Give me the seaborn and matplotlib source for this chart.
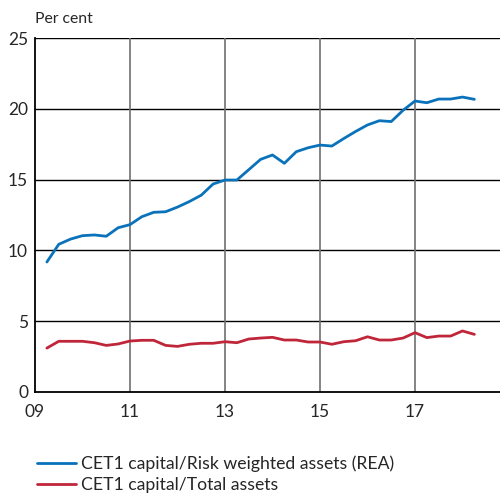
import numpy as np
import pandas as pd
import matplotlib
matplotlib.use("Agg")
import matplotlib.pyplot as plt
import seaborn as sns

# Quarterly observations, 2009 Q2 to 2018 Q2
quarters = [2009.25, 2009.5, 2009.75, 2010.0, 2010.25, 2010.5, 2010.75, 2011.0,
            2011.25, 2011.5, 2011.75, 2012.0, 2012.25, 2012.5, 2012.75, 2013.0,
            2013.25, 2013.5, 2013.75, 2014.0, 2014.25, 2014.5, 2014.75, 2015.0,
            2015.25, 2015.5, 2015.75, 2016.0, 2016.25, 2016.5, 2016.75, 2017.0,
            2017.25, 2017.5, 2017.75, 2018.0, 2018.25]

cet1_rea = [9.18, 10.43, 10.80, 11.04, 11.09, 11.00, 11.60, 11.82, 12.38, 12.69,
            12.73, 13.06, 13.45, 13.90, 14.69, 14.97, 14.97, 15.70, 16.43, 16.74,
            16.15, 16.97, 17.25, 17.44, 17.37, 17.90, 18.40, 18.86, 19.16, 19.10,
            19.90, 20.55, 20.43, 20.69, 20.69, 20.83, 20.67]

cet1_total = [3.10, 3.58, 3.58, 3.58, 3.48, 3.29, 3.39, 3.60, 3.65, 3.65,
              3.29, 3.22, 3.37, 3.44, 3.44, 3.55, 3.48, 3.74, 3.81, 3.86,
              3.67, 3.67, 3.53, 3.53, 3.37, 3.55, 3.62, 3.90, 3.67, 3.67,
              3.81, 4.19, 3.84, 3.95, 3.95, 4.31, 4.07]

series_names = ["CET1 capital/Risk weighted assets (REA)", "CET1 capital/Total assets"]
x_ticks = [2009, 2011, 2013, 2015, 2017]
x_tick_labels = ["09", "11", "13", "15", "17"]
y_ticks = [0, 5, 10, 15, 20, 25]

df = pd.DataFrame({
    "quarter": quarters * 2,
    "value": cet1_rea + cet1_total,
    "series": [series_names[0]] * len(quarters) + [series_names[1]] * len(quarters),
})

sns.set_style("white")
plt.rcParams["font.family"] = ["Lato", "DejaVu Sans"]

fig = plt.figure(figsize=(5.00, 4.97), dpi=100)
ax = fig.add_axes([0.07, 0.2113, 0.95, 0.7122])

sns.lineplot(data=df, x="quarter", y="value", hue="series",
             palette=["#0A72BA", "#C0263A"], linewidth=2.0, ax=ax, legend=False)

ax.set_xlim(2009, 2019)
ax.set_ylim(0, 25)
ax.set_xticks(x_ticks)
ax.set_xticklabels(x_tick_labels)
ax.set_yticks(y_ticks)
ax.set_xlabel("")
ax.set_ylabel("")

# Grid: black horizontals, grey verticals
for v in y_ticks[1:]:
    ax.axhline(v, color="black", linewidth=1.0, zorder=0)
for v in x_ticks[1:]:
    ax.axvline(v, color="#707070", linewidth=1.2, zorder=0)

for side in ["left", "bottom"]:
    ax.spines[side].set_color("black")
    ax.spines[side].set_linewidth(1.3)
ax.spines["top"].set_visible(False)
ax.spines["right"].set_visible(False)

ax.tick_params(axis="y", direction="in", length=4, width=1.3, labelsize=12.5, pad=5)
ax.tick_params(axis="x", length=0, labelsize=12.5, pad=9)

fig.text(0.07, 0.948, "Per cent", fontsize=11.3, ha="left", va="bottom")

# Legend below the plot
handles = [plt.Line2D([], [], color=c, linewidth=2.0) for c in ["#0A72BA", "#C0263A"]]
fig.legend(handles, series_names, loc="upper left", bbox_to_anchor=(0.074, 0.083),
           frameon=False, fontsize=12.7, handlelength=2.2, handletextpad=0.3,
           labelspacing=0.25, borderaxespad=0, borderpad=0)

fig.savefig("out.png", dpi=100)
